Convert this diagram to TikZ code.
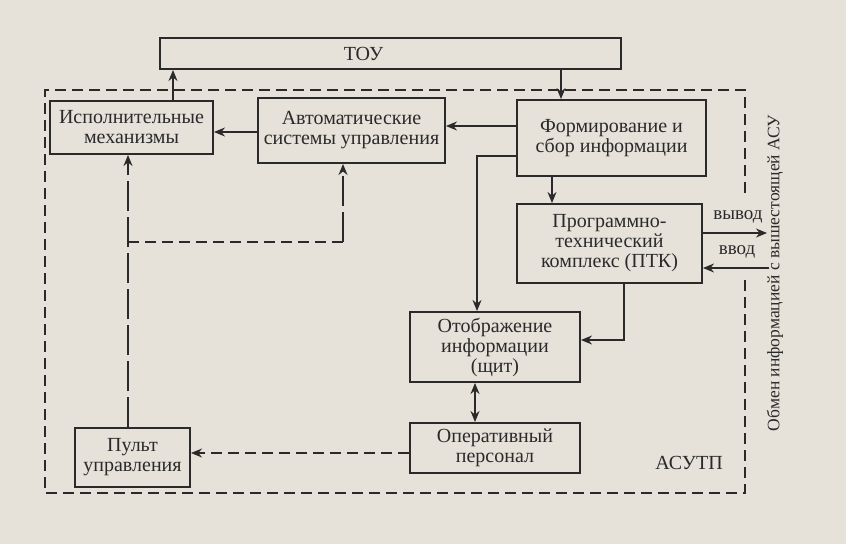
\documentclass[tikz,border=0pt]{standalone}
\usepackage{fontspec}
\setmainfont{Liberation Serif}
\usetikzlibrary{arrows.meta,calc}
\definecolor{bgc}{HTML}{E6E2DA}
\definecolor{inkc}{HTML}{2A2A2A}
\begin{document}
\begin{tikzpicture}[x=1pt,y=-1pt,
  box/.style={draw=inkc,line width=2pt,fill=bgc,inner sep=0pt,align=center,text=inkc,
    font=\fontsize{20}{20}\selectfont},
  arr/.style={draw=inkc,line width=1.2pt,-{Stealth[length=11pt,width=9pt,inset=3.5pt]}},
  dsh/.style={dash pattern=on 11pt off 6pt},
  dshl/.style={dash pattern=on 30pt off 6pt},
  lbl/.style={text=inkc,font=\fontsize{19}{20}\selectfont}]
\fill[bgc] (0,0) rectangle (846,544);
\useasboundingbox (0,0) rectangle (846,544);
% frame
\draw[inkc,line width=1.2pt,dsh] (745,193) -- (745,90) -- (45,90) -- (45,493) -- (745,493) -- (745,275);
% boxes
\node[box,minimum width=461pt,minimum height=31pt,
  label={[text=inkc,font=\fontsize{20}{20}\selectfont,xshift=-27pt]center:ТОУ}] (tou) at (390.5,53.5) {};
\node[box,minimum width=163pt,minimum height=53pt] (isp) at (131.5,127.5) {Исполнительные\\механизмы};
\node[box,minimum width=187pt,minimum height=65pt] (avt) at (351.5,130.5) {Автоматические\\системы управления};
\node[box,minimum width=189pt,minimum height=76pt] (form) at (611.5,138) {Формирование и\\сбор информации};
\node[box,minimum width=185pt,minimum height=79pt] (ptk) at (609.5,243.5) {Программно-\\технический\\комплекс (ПТК)};
\node[box,minimum width=170pt,minimum height=70pt] (otob) at (495,347) {Отображение\\информации\\(щит)};
\node[box,minimum width=170pt,minimum height=50pt] (oper) at (495,448) {Оперативный\\персонал};
\node[box,minimum width=115pt,minimum height=59pt] (pult) at (132.5,457.5) {Пульт\\управления};
% helper coordinates
\coordinate (xa) at (173,0);
\coordinate (xb) at (561,0);
\coordinate (xc) at (552,0);
\coordinate (xd) at (477,0);
\coordinate (xe) at (624,0);
\coordinate (xf) at (475,0);
\coordinate (xg) at (128,0);
\coordinate (xh) at (343,0);
\coordinate (ya) at (0,132);
\coordinate (yb) at (0,126);
\coordinate (yc) at (0,156);
\coordinate (yd) at (0,340);
\coordinate (ye) at (0,453);
\coordinate (yf) at (0,242);
\coordinate (yg) at (0,233);
\coordinate (yh) at (0,268);
\coordinate (outR) at (767,233);
\coordinate (inR) at (769,268);
% solid connectors
\draw[arr] (isp.north -| xa) -- (tou.south -| xa);
\draw[arr] (tou.south -| xb) -- (form.north -| xb);
\draw[arr] (avt.west |- ya) -- (isp.east |- ya);
\draw[arr] (form.west |- yb) -- (avt.east |- yb);
\draw[arr] (form.west |- yc) -- (xd |- yc) -- (otob.north -| xd);
\draw[arr] (form.south -| xc) -- (ptk.north -| xc);
\draw[arr] (ptk.south -| xe) -- (xe |- yd) -- (otob.east |- yd);
\draw[draw=inkc,line width=1.2pt,{Stealth[length=11pt,width=9pt,inset=3.5pt]}-{Stealth[length=11pt,width=9pt,inset=3.5pt]}] (otob.south -| xf) -- (oper.north -| xf);
\draw[arr] (ptk.east |- yg) -- (outR);
\draw[arr] (inR) -- (ptk.east |- yh);
% dashed connectors
\draw[arr,dsh] (oper.west |- ye) -- (pult.east |- ye);
\draw[arr,dshl] (pult.north -| xg) -- (isp.south -| xg);
\draw[inkc,line width=1.2pt,dsh] (xg |- yf) -- (xh |- yf);
\draw[arr,dshl] (xh |- yf) -- (avt.south -| xh);
% labels
\node[lbl] (vyv) at (738,217) {вывод};
\node[lbl] (vvod) at (737,252) {ввод};
\node[text=inkc,font=\fontsize{17.5}{18}\selectfont,rotate=90] (obm) at (775,273) {Обмен информацией с вышестоящей АСУ};
\node[text=inkc,font=\fontsize{20}{20}\selectfont] (asutp) at (689,463) {АСУТП};
\end{tikzpicture}
\end{document}
